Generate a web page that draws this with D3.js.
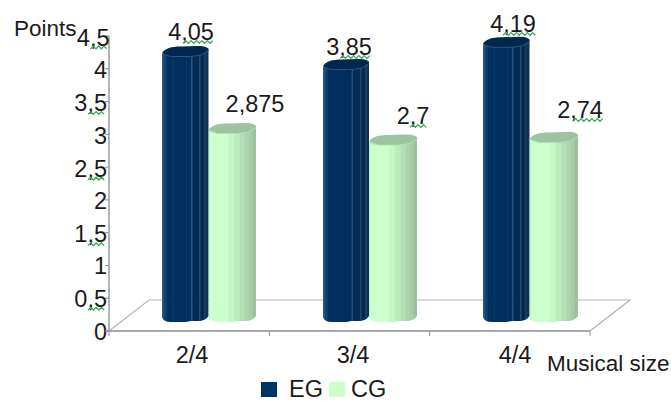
<!DOCTYPE html>
<html>
<head>
<meta charset="utf-8">
<script src="https://cdn.jsdelivr.net/npm/d3@7/dist/d3.min.js"></script>
<style>
html,body{margin:0;padding:0;background:#fff}
svg{display:block}
text{font-family:"Liberation Sans",Arial,sans-serif;fill:#1a1a1a}
</style>
</head>
<body>
<svg id="chart" width="671" height="401"></svg>
<script>
// Chart content
const categories = ["2/4", "3/4", "4/4"];
const seriesNames = ["EG", "CG"];
const egValues = [4.05, 3.85, 4.19];
const cgValues = [2.875, 2.7, 2.74];
const valueLabels = [["4,05", "3,85", "4,19"], ["2,875", "2,7", "2,74"]];
const tickValues = [0, 0.5, 1, 1.5, 2, 2.5, 3, 3.5, 4, 4.5];
const tickLabels = ["0", "0,5", "1", "1,5", "2", "2,5", "3", "3,5", "4", "4,5"];

const svg = d3.select("#chart");

const axisX = 109, axisRight = 590, baseY = 331, topY = 36;
const depthX = 40, depthY = -31;
const labelSize = 23.5, titleSize = 22.5;

const y = d3.scaleLinear().domain([0, 4.5]).range([baseY, topY]);
const x = d3.scaleBand().domain(categories).range([axisX, axisRight]);

// Floor of the 3D plot
svg.append("path")
  .attr("d", `M${axisX},${baseY}L${axisX + depthX},${baseY + depthY}L${axisRight + depthX},${baseY + depthY}L${axisRight},${baseY}`)
  .attr("fill", "none").attr("stroke", "#b3b3b3").attr("stroke-width", 1.2);

// Facet colours of each cylinder, left to right, with widths as a share of the bar
const facets = {
  EG: {
    widths: [0.03, 0.07, 0.14, 0.28, 0.10, 0.03, 0.15, 0.03, 0.08, 0.03, 0.06],
    colors: ["#2a5785", "#144270", "#003060", "#002e5e", "#002c5a", "#28507c", "#002b55", "#1d436c", "#04294f", "#163a60", "#0d3257"],
    top: "#00284f", rim: "#2c5580"
  },
  CG: {
    widths: [0.02, 0.40, 0.12, 0.12, 0.10, 0.08, 0.08, 0.08],
    colors: ["#b8e8c0", "#ccffcc", "#c4f6c6", "#bbecbd", "#b2e0b4", "#abd6ad", "#a5cea6", "#9cc29d"],
    top: "#9cc49e", rim: "#b4dcb6"
  }
};

const barLift = 9; // cylinders stand this far behind the front edge of the floor

function cylinder(g, left, width, value, name) {
  const f = facets[name];
  const bottom = baseY - barLift;
  const top = y(value) - barLift;
  const clipId = `clip-${name}-${Math.round(left)}`;

  // Outline with a rounded foot, used to cut the vertical facets
  const outline = d3.path();
  outline.moveTo(left, top - 3);
  outline.lineTo(left, bottom - 5);
  outline.quadraticCurveTo(left + 1, bottom, left + width * 0.2, bottom);
  outline.lineTo(left + width * 0.5, bottom);
  outline.lineTo(left + width * 0.62, bottom - 1);
  outline.lineTo(left + width * 0.82, bottom - 1);
  outline.quadraticCurveTo(left + width * 0.95, bottom - 2, left + width, bottom - 6);
  outline.lineTo(left + width, top - 8);
  outline.closePath();
  g.append("clipPath").attr("id", clipId).append("path").attr("d", outline.toString());

  const strips = g.append("g").attr("clip-path", `url(#${clipId})`);
  let cx = left;
  f.widths.forEach((w, i) => {
    const sw = w * width;
    strips.append("rect")
      .attr("x", cx).attr("y", top - 12)
      .attr("width", sw + 0.5).attr("height", bottom - top + 14)
      .attr("fill", f.colors[i]);
    cx += sw;
  });

  // Elliptical cap seen from above
  const cap = d3.path();
  cap.moveTo(left, top - 3.5);
  cap.bezierCurveTo(left + width * 0.06, top - 8, left + width * 0.2, top - 10, left + width * 0.4, top - 10);
  cap.lineTo(left + width * 0.75, top - 10.5);
  cap.quadraticCurveTo(left + width * 0.98, top - 11, left + width, top - 7);
  cap.lineTo(left + width * 0.85, top - 1.5);
  cap.lineTo(left + width * 0.62, top);
  cap.lineTo(left + width * 0.2, top);
  cap.closePath();
  g.append("path").attr("d", cap.toString()).attr("fill", f.top);

  // Lighter rim along the front edge of the cap
  g.append("path")
    .attr("d", `M${left + 1},${top - 2}L${left + width * 0.2},${top}L${left + width * 0.62},${top}L${left + width * 0.85},${top - 1.5}L${left + width},${top - 6}`)
    .attr("fill", "none").attr("stroke", f.rim).attr("stroke-width", 1);
}

// Wavy proofing underline beneath comma-separated numbers
function squiggle(g, x0, x1, yy) {
  const pts = [];
  const step = 2.7;
  let i = 0;
  for (let px = x0; px <= x1; px += step, i++) pts.push([px, yy + (i % 2 ? -1.4 : 1.4)]);
  g.append("path").attr("d", d3.line()(pts))
    .attr("fill", "none").attr("stroke", "#35a552").attr("stroke-width", 1.2);
}

// Bars
const barGroup = svg.append("g");
const barStarts = [[162, 208.5], [323, 369], [483, 529.5]];
const barWidths = [[46.5, 47.5], [46, 48], [46.5, 48.5]];
categories.forEach((c, i) => {
  barGroup.call(cylinder, barStarts[i][0], barWidths[i][0], egValues[i], "EG");
  barGroup.call(cylinder, barStarts[i][1], barWidths[i][1], cgValues[i], "CG");
});

// Value axis
svg.append("path").attr("d", `M${axisX},${topY}V${baseY}`).attr("stroke", "#8c8c8c").attr("stroke-width", 1.3);
const yTicks = svg.append("g");
const tickLabelRight = t => (t === 4.5 ? 109.5 : 107);
tickValues.forEach((t, i) => {
  yTicks.append("line")
    .attr("x1", axisX - 4).attr("x2", axisX).attr("y1", y(t)).attr("y2", y(t))
    .attr("stroke", "#8c8c8c").attr("stroke-width", 1);
  yTicks.append("text")
    .attr("x", tickLabelRight(t)).attr("y", y(t) + (t > 1 ? 9.5 : 8.5))
    .attr("text-anchor", "end").attr("font-size", labelSize)
    .text(tickLabels[i]);
  if (tickLabels[i].includes(",")) {
    squiggle(yTicks, tickLabelRight(t) - 19, tickLabelRight(t) - 1, y(t) + (t > 1 ? 11.5 : 10.5));
  }
});

// Category axis
svg.append("path").attr("d", `M${axisX - 4},${baseY}H${axisRight}`).attr("stroke", "#8c8c8c").attr("stroke-width", 1.3);
x.domain().concat(["end"]).forEach((c, i) => {
  const px = axisX + i * x.bandwidth();
  svg.append("line").attr("x1", px).attr("x2", px).attr("y1", baseY).attr("y2", baseY + 5)
    .attr("stroke", "#8c8c8c").attr("stroke-width", 1);
});
const categoryCenters = [192, 353, 515];
categories.forEach((c, i) => {
  svg.append("text").attr("x", categoryCenters[i]).attr("y", 363)
    .attr("text-anchor", "middle").attr("font-size", labelSize).text(c);
});

// Value labels on top of the cylinders
const labelPos = [
  [[191, 40], [255, 112]],
  [[349, 55], [413, 124]],
  [[513, 32], [580, 118]]
];
const labelSquiggle = [
  [[183, 215, 42], null],
  [[340, 372, 57], [410, 428, 126]],
  [[503, 536, 34], [573, 603, 120]]
];
valueLabels.forEach((row, s) => {
  row.forEach((label, i) => {
    svg.append("text").attr("x", labelPos[i][s][0]).attr("y", labelPos[i][s][1])
      .attr("text-anchor", "middle").attr("font-size", labelSize).text(label);
    const q = labelSquiggle[i][s];
    if (q) squiggle(svg, q[0], q[1], q[2]);
  });
});

// Axis titles
svg.append("text").attr("x", 14).attr("y", 36).attr("font-size", titleSize).text("Points");
svg.append("text").attr("x", 547).attr("y", 371).attr("font-size", titleSize).text("Musical size");

// Legend
const legendX = [261, 329];
seriesNames.forEach((name, i) => {
  svg.append("rect").attr("x", legendX[i]).attr("y", 382).attr("width", 16).attr("height", 15)
    .attr("fill", name === "EG" ? "#003366" : "#ccffcc");
  svg.append("text").attr("x", legendX[i] + (i ? 22 : 28)).attr("y", 397).attr("font-size", labelSize).text(name);
});
</script>
</body>
</html>
